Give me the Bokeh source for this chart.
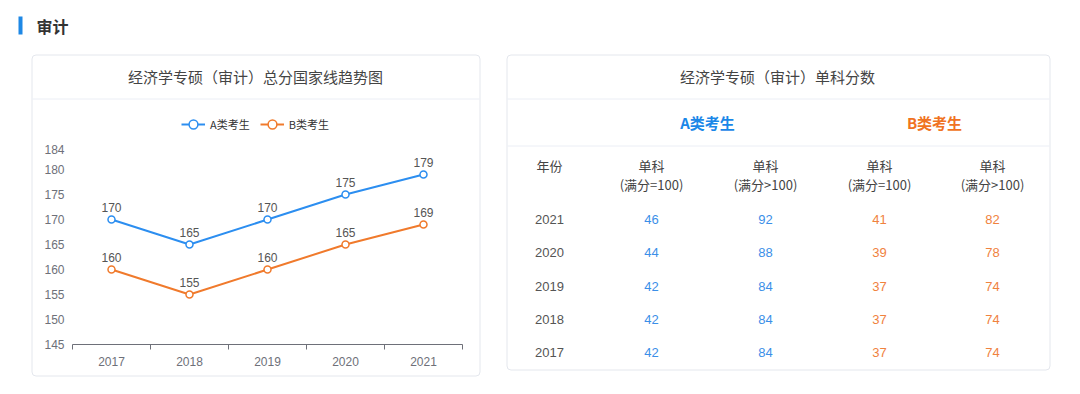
from bokeh.plotting import figure
from bokeh.models import (Range1d, LinearAxis, FixedTicker, Legend, LegendItem, Grid,
                          LabelSet, ColumnDataSource)
from bokeh.core.properties import value
from bokeh.embed import file_html
from bokeh.resources import INLINE

# ---------------- data ----------------
years = ["2017", "2018", "2019", "2020", "2021"]
score_a = [170, 165, 170, 175, 179]
score_b = [160, 155, 160, 165, 169]
y_ticks = [145, 150, 155, 160, 165, 170, 175, 180, 184]
series_names = ["A类考生", "B类考生"]

page_title = "审计"
chart_title = "经济学专硕（审计）总分国家线趋势图"
table_title = "经济学专硕（审计）单科分数"
table_groups = ["A类考生", "B类考生"]
table_col_head = ["年份", "单科", "单科", "单科", "单科"]
table_col_sub = ["", "(满分=100)", "(满分>100)", "(满分=100)", "(满分>100)"]
table_years = ["2021", "2020", "2019", "2018", "2017"]
a_single_100 = [46, 44, 42, 42, 42]
a_single_gt100 = [92, 88, 84, 84, 84]
b_single_100 = [41, 39, 37, 37, 37]
b_single_gt100 = [82, 78, 74, 74, 74]

# ---------------- styles / layout ----------------
BLUE = "#2C8EF0"
ORANGE = "#F07A2C"
T_BLUE = "#3B8FE8"
T_ORANGE = "#F0823E"
AXIS = "#6E7079"
CJK = "Noto Sans CJK SC"
LAT = "Liberation Sans"

W, H = 1064, 378
FL, FT, FR, FB = 72, 149, 462, 344          # chart plot area (pixels)

p = figure(width=W, height=H, output_backend="svg", toolbar_location=None, tools="",
           x_range=Range1d(0, W), y_range=Range1d(H, 0),
           x_axis_type=None, y_axis_type=None, min_border=0)
p.outline_line_color = None
p.background_fill_color = "white"
p.border_fill_color = "white"
p.xgrid.visible = False
p.ygrid.visible = False

# chart scales placed inside the pixel canvas
ppx = (FR - FL) / len(years)
ppy = (FB - FT) / (y_ticks[-1] - y_ticks[0])
cx0 = -0.5 - FL / ppx
cy0 = y_ticks[0] - (H - FB) / ppy
p.extra_x_ranges = {"cx": Range1d(cx0, cx0 + W / ppx)}
p.extra_y_ranges = {"cy": Range1d(cy0, cy0 + H / ppy)}

# ---------------- decorations (cards) ----------------
# header
p.quad(left=[18], right=[22], top=[16], bottom=[34], fill_color="#1E88E5", line_color=None)
p.text(x=[36], y=[25], text=[page_title], text_font=value(CJK), text_font_size="16px",
       text_font_style="bold", text_color="#333333", text_baseline="middle", text_align="left")

# cards
p.quad(left=[31.5, 506.5], right=[479.5, 1049.5], top=[54.5, 54.5], bottom=[375.5, 369.5],
       fill_color="white", line_color="#E4E7ED", line_width=1, border_radius=4)
p.segment(x0=[32, 507, 507], x1=[479, 1049, 1049], y0=[98.5, 98.5, 145.5], y1=[98.5, 98.5, 145.5],
          line_color="#EBEEF5", line_width=1)
p.text(x=[255, 777], y=[76, 76], text=[chart_title, table_title], text_font=value(CJK),
       text_font_size="15px", text_color="#444444", text_baseline="middle", text_align="center")

# ---------------- table ----------------
p.text(x=[707, 934], y=[122, 122], text=table_groups, text_color=["#1A87E8", "#F07322"],
       text_font=value(CJK), text_font_size="15px", text_font_style="bold",
       text_baseline="middle", text_align="center")

col_x = [549, 651, 765, 879, 992]
head_src = ColumnDataSource(dict(
    x=col_x + col_x[1:],
    y=[165] * len(col_x) + [184] * (len(col_x) - 1),
    t=table_col_head + table_col_sub[1:]))
p.text(x="x", y="y", text="t", source=head_src, text_font=value(CJK), text_font_size="13px",
       text_color="#444444", text_baseline="middle", text_align="center")

row_y = [219, 252, 286, 319, 352]
columns = [(table_years, "#555555"), (a_single_100, T_BLUE), (a_single_gt100, T_BLUE),
           (b_single_100, T_ORANGE), (b_single_gt100, T_ORANGE)]
cx_l, cy_l, ct_l, cc_l = [], [], [], []
for cx, (vals, color) in zip(col_x, columns):
    for ry, v in zip(row_y, vals):
        cx_l.append(cx)
        cy_l.append(ry)
        ct_l.append(str(v))
        cc_l.append(color)
cell_src = ColumnDataSource(dict(x=cx_l, y=cy_l, t=ct_l, c=cc_l))
p.text(x="x", y="y", text="t", text_color="c", source=cell_src, text_font=value(LAT),
       text_font_size="13px", text_baseline="middle", text_align="center")

# ---------------- line chart ----------------
xs = list(range(len(years)))
yax = LinearAxis(y_range_name="cy", fixed_location=FL, bounds=(y_ticks[0], y_ticks[-1]),
                 ticker=FixedTicker(ticks=y_ticks), axis_line_color=None,
                 major_tick_line_color=None, minor_tick_line_color=None,
                 major_tick_out=0, major_tick_in=0,
                 major_label_standoff=8, major_label_text_color=AXIS,
                 major_label_text_font_size="12px", major_label_text_font=LAT)
p.add_layout(yax, "left")

xax = LinearAxis(x_range_name="cx", fixed_location=FB, bounds=(xs[0] - 0.5, xs[-1] + 0.5),
                 ticker=FixedTicker(ticks=xs, minor_ticks=[x - 0.5 for x in xs] + [xs[-1] + 0.5]),
                 major_label_overrides={i: y for i, y in zip(xs, years)},
                 axis_line_color=AXIS, axis_line_width=1,
                 major_tick_line_color=None, major_tick_out=0, major_tick_in=0,
                 minor_tick_line_color=AXIS, minor_tick_out=5, minor_tick_in=0,
                 major_label_standoff=7, major_label_text_color=AXIS,
                 major_label_text_font_size="12px", major_label_text_font=LAT)
p.add_layout(xax, "below")

p.add_layout(Grid(dimension=1, y_range_name="cy", ticker=FixedTicker(ticks=y_ticks[1:]),
                  bounds=(y_ticks[1], y_ticks[-1]), cross_bounds=(FL, FR),
                  grid_line_color="#E0E6F1"))

src = ColumnDataSource(dict(x=xs, a=score_a, b=score_b,
                            la=[str(v) for v in score_a], lb=[str(v) for v in score_b]))
kw = dict(source=src, x_range_name="cx", y_range_name="cy")
la = p.line("x", "a", line_color=BLUE, line_width=2, **kw)
sa = p.scatter("x", "a", size=7, fill_color="white", line_color=BLUE, line_width=1.5, **kw)
lb = p.line("x", "b", line_color=ORANGE, line_width=2, **kw)
sb = p.scatter("x", "b", size=7, fill_color="white", line_color=ORANGE, line_width=1.5, **kw)
for col in ("a", "b"):
    p.add_layout(LabelSet(x="x", y=col, text="l" + col, source=src, x_range_name="cx",
                          y_range_name="cy", text_align="center", text_baseline="bottom",
                          y_offset=8, text_font_size="12px", text_color="#555555",
                          text_font=value(LAT)))

legend = Legend(items=[LegendItem(label=series_names[0], renderers=[la, sa]),
                       LegendItem(label=series_names[1], renderers=[lb, sb])],
                orientation="horizontal", location=(181, H - 135),
                padding=0, margin=0, spacing=10, label_standoff=5,
                glyph_width=24, glyph_height=22, border_line_color=None,
                background_fill_alpha=0, label_text_font_size="11px",
                label_text_color="#333333", label_text_font=CJK)
p.add_layout(legend)

open("out.html", "w").write(file_html(p, INLINE))
